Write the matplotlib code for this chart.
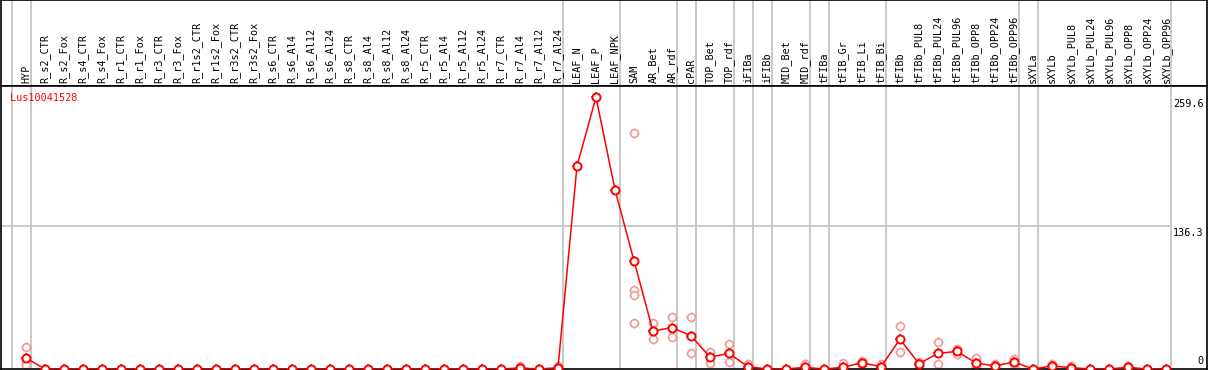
import numpy as np
import matplotlib
matplotlib.use("Agg")
import matplotlib.pyplot as plt
import matplotlib.transforms as mtransforms

gene = "Lus10041528"

labels = ["HYP",
          "R_s2_CTR", "R_s2_Fox", "R_s4_CTR", "R_s4_Fox", "R_r1_CTR", "R_r1_Fox",
          "R_r3_CTR", "R_r3_Fox", "R_r1s2_CTR", "R_r1s2_Fox", "R_r3s2_CTR", "R_r3s2_Fox",
          "R_s6_CTR", "R_s6_Al4", "R_s6_Al12", "R_s6_Al24",
          "R_s8_CTR", "R_s8_Al4", "R_s8_Al12", "R_s8_Al24",
          "R_r5_CTR", "R_r5_Al4", "R_r5_Al12", "R_r5_Al24",
          "R_r7_CTR", "R_r7_Al4", "R_r7_Al12", "R_r7_Al24",
          "LEAF_N", "LEAF_P", "LEAF_NPK",
          "SAM", "AR_Bet", "AR_rdf",
          "cPAR",
          "TOP_Bet", "TOP_rdf",
          "iFIBa",
          "iFIBb",
          "MID_Bet", "MID_rdf",
          "tFIBa",
          "tFIB_Gr", "tFIB_Li", "tFIB_Bi",
          "tFIBb", "tFIBb_PUL8", "tFIBb_PUL24", "tFIBb_PUL96",
          "tFIBb_OPP8", "tFIBb_OPP24", "tFIBb_OPP96",
          "sXYLa",
          "sXYLb", "sXYLb_PUL8", "sXYLb_PUL24", "sXYLb_PUL96",
          "sXYLb_OPP8", "sXYLb_OPP24", "sXYLb_OPP96"]

# number of samples in each tissue group (separated by grey lines)
group_sizes = [1, 28, 3, 3, 1, 2, 1, 1, 2, 1, 3, 7, 1, 7]

# mean expression per sample
means = [10.5,
         0, 0, 0, 0, 0, 0, 0, 0, 0, 0, 0, 0,
         0, 0, 0, 0, 0, 0, 0, 0, 0, 0, 0, 0,
         0, 1.0, 0, 1.2,
         194.0, 259.6, 171.2,
         103.4, 36.1, 39.6,
         31.7,
         11.4, 14.9,
         2.2,
         0,
         0, 1.6,
         0,
         1.6, 6.0, 2.2,
         28.5, 5.1, 14.9, 16.8, 5.7, 2.9, 6.7,
         0,
         2.9, 1.3, 0, 0, 1.6, 0, 0]

# individual replicates (only those visible apart from the mean)
reps = [[20.6, 6.9, 3.5],
        [], [], [], [], [], [], [], [], [], [], [], [],
        [], [], [], [], [], [], [], [], [], [], [], [],
        [], [2.5], [], [3.0],
        [], [], [],
        [225.0, 75.8, 70.4, 44.4], [43.8, 28.2], [49.2, 30.1],
        [49.2, 14.9],
        [16.5, 6.0], [23.5, 6.4],
        [4.5, 0.5],
        [],
        [], [4.5],
        [],
        [5.4], [7.9, 4.5], [4.8],
        [40.9, 15.9], [6.7, 3.0], [25.4, 4.5], [19.3, 14.5], [10.2, 1.5], [4.5], [9.2, 4.5],
        [],
        [4.8, 1.0], [3.0], [], [], [2.9], [], []]

ref_ticks = [259.6, 136.3, 0]

plt.rcParams['font.family'] = ['DejaVu Sans Mono']
RED = "#ff0000"
PINK = "#f09a9a"
GREY = "#c0c0c0"

W, H = 1209, 370
fig = plt.figure(figsize=(W / 100, H / 100), dpi=100)

x = np.arange(len(labels))
xlim = ((1 - 26) / 19, (1207 - 26) / 19)
ymax = 270.3

# header with sample names
axh = fig.add_axes([1 / W, (H - 86) / H, 1206 / W, 86 / H])
ax = fig.add_axes([1 / W, 1 / H, 1206 / W, 283 / H])

for a in (axh, ax):
    a.set_xlim(*xlim)
    a.set_xticks([])
    a.set_yticks([])
    for s in a.spines.values():
        s.set_color("black")
        s.set_linewidth(1.2)
axh.set_ylim(0, 1)
ax.set_ylim(0, ymax)

for i, lab in enumerate(labels):
    axh.text(i, 0.03, lab, rotation=90, ha="center", va="bottom", fontsize=7.3)

# group separators
ends = np.cumsum(group_sizes) - 1
bounds = [-1] + list(ends)
for b in bounds:
    for a in (axh, ax):
        a.axvline(b + 0.24, color=GREY, lw=1.2, zorder=1)

# reference line
ax.plot([xlim[0], bounds[-1] + 0.24], [ref_ticks[1]] * 2, color=GREY, lw=1.2, zorder=1)

blend = mtransforms.blended_transform_factory(ax.transAxes, ax.transData)
for v in ref_ticks:
    if v == 0:
        ax.text(0.997, v + 2.5, "0", transform=blend, ha="right", va="bottom", fontsize=7.3)
    else:
        ax.text(0.997, v - 2.0, f"{v}", transform=blend, ha="right", va="top", fontsize=7.3)

ax.text(0.0075, 0.975, gene, transform=ax.transAxes, color=RED, ha="left", va="top", fontsize=7.3)

# replicates
rx = [i for i, r in enumerate(reps) for _ in r]
ry = [v for r in reps for v in r]
ax.plot(rx, ry, ls="none", marker="+", ms=7.2, mew=1.0, color=PINK, zorder=2)
ax.plot(rx, ry, ls="none", marker="o", ms=5.6, mew=1.2, mec=PINK, mfc="white", zorder=2)

# mean profile
ax.plot(x, means, color=RED, lw=1.1, zorder=3)
ax.plot(x, means, ls="none", marker="+", ms=7.6, mew=1.1, color=RED, zorder=4)
ax.plot(x, means, ls="none", marker="o", ms=5.8, mew=1.4, mec=RED, mfc="white", zorder=4)

fig.savefig("out.png", dpi=100)
